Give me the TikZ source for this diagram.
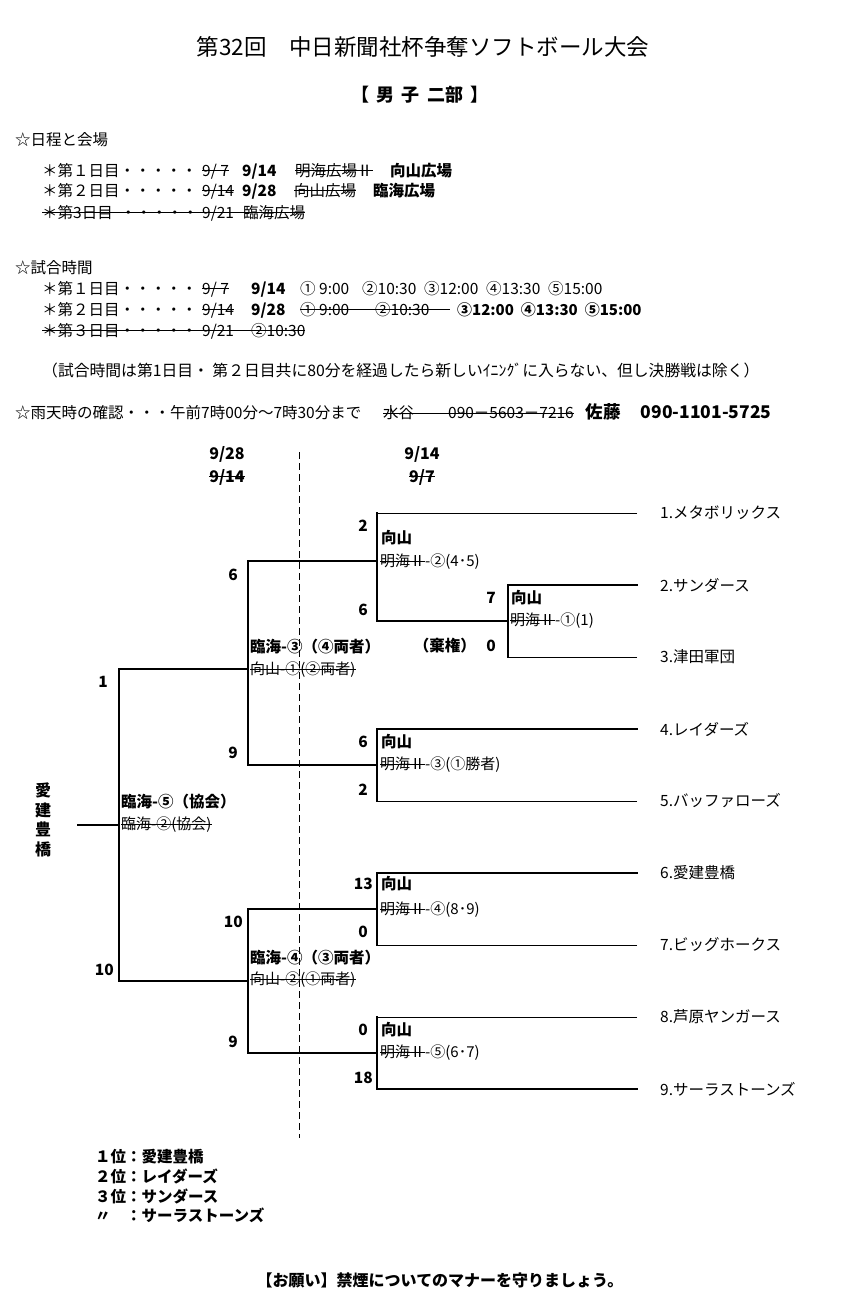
\documentclass[tikz,border=0pt]{standalone}
\usepackage{fontspec}
\setmainfont{Noto Sans CJK JP}
\usetikzlibrary{positioning}

\newcommand\fs[1]{\fontsize{#1}{#1}\selectfont}
\newsavebox\strkbox
\newcommand\strk[1]{\sbox\strkbox{#1}\rlap{\rule[0.33em]{\wd\strkbox}{0.8pt}}\usebox\strkbox}
\newcommand\cell[2]{\makebox[#1pt][l]{#2}}

\tikzset{
    txt/.style={anchor=west,inner sep=0pt,font=\fs{15.5}},
    team/.style={anchor=west,inner sep=0pt,font=\fs{15.5}},
    score/.style={anchor=east,inner sep=0pt,font=\fs{15.5}\bfseries},
    venue/.style={anchor=west,inner sep=0pt,font=\fs{15.5}\bfseries},
    plan/.style={anchor=west,inner sep=0pt,font=\fs{15}},
    datehd/.style={inner sep=0pt,font=\fs{16}\bfseries},
    rank/.style={anchor=west,inner sep=0pt,font=\fs{15.5}\bfseries},
    win/.style={line width=2pt,line cap=rect},
    mid/.style={line width=1.4pt,line cap=rect},
    lose/.style={line width=0.9pt}
}

\begin{document}
\begin{tikzpicture}[x=1pt,y=-1pt]
\useasboundingbox (0,0) rectangle (846,1306);
\fill[white] (0,0) rectangle (846,1306);

% heading
\node[inner sep=0pt,font=\fs{22.5}] (title) at (423,47) {第32回　中日新聞社杯争奪ソフトボール大会};
\node[inner sep=0pt,font=\fs{18}\bfseries] (sub) at (420,95) {【\hspace{.4em}男\hspace{.4em}子\hspace{.4em}二部\hspace{.4em}】};

% schedule
\node[txt] (sched) at (15,140) {☆日程と会場};
\node[txt] (day1) at (42,171) {\cell{160}{＊第１日目・・・・・}\cell{40}{\strk{9/ 7}}\cell{53}{\textbf{9/14}}\cell{95}{\strk{明海広場Ⅱ}}\textbf{向山広場}};
\node[txt] (day2) at (42,191) {\cell{160}{＊第２日目・・・・・}\cell{40}{\strk{9/14}}\cell{52}{\textbf{9/28}}\cell{79}{\strk{向山広場}}\textbf{臨海広場}};
\node[txt] (day3) at (42,213) {\strk{\cell{160}{＊第3日目\hspace{.5em}・・・・・}\cell{41}{9/21}臨海広場}};

% match times
\node[txt] (times) at (15,268) {☆試合時間};
\node[txt] (tm1) at (42,289) {\cell{160}{＊第１日目・・・・・}\cell{49}{\strk{9/ 7}}\cell{49}{\textbf{9/14}}\cell{62}{① 9:00}\cell{62}{②10:30}\cell{62}{③12:00}\cell{62}{④13:30}⑤15:00};
\node[txt] (tm2) at (42,310) {\cell{160}{＊第２日目・・・・・}\cell{49}{\strk{9/14}}\cell{49}{\textbf{9/28}}\strk{\cell{75}{① 9:00}\cell{75}{②10:30}}\hspace{7pt}{\fs{15}\bfseries ③12:00\hspace{7pt}④13:30\hspace{7pt}⑤15:00}};
\node[txt] (tm3) at (42,331) {\strk{\cell{160}{＊第３日目・・・・・}\cell{49}{9/21}②10:30}};
\node[txt,font=\fs{15.8}] (note) at (42,370) {（試合時間は第1日目・ 第２日目共に80分を経過したら新しいｲﾆﾝｸﾞに入らない、但し決勝戦は除く）};
\node[txt] (rain) at (15,412) {\cell{368}{☆雨天時の確認・・・午前7時00分～7時30分まで}\strk{\cell{65}{水谷}090－5603－7216}\hspace{12pt}{\fs{17.5}\bfseries\cell{55}{佐藤}090-1101-5725}};

% date headers of the bracket
\node[datehd] (d1) at (227,454) {9/28};
\node[datehd] (d2) at (227,477) {\strk{9/14}};
\node[datehd] (d3) at (422,454) {9/14};
\node[datehd] (d4) at (422,477) {\strk{9/7}};
\coordinate (dtop) at (299,452);
\coordinate (dbot) at (299,1138);
\draw[line width=0.8pt,dash pattern=on 7pt off 4pt] (dtop) -- (dbot);

% teams
\foreach \i/\y/\name in {1/513/メタボリックス,2/585/サンダース,3/657/津田軍団,4/729/レイダーズ,5/801/バッファローズ,6/873/愛建豊橋,7/945/ビッグホークス,8/1017/芦原ヤンガース,9/1089/サーラストーンズ}{
    \node[team] (t\i) at (660,\y) {\i.\name};
    \coordinate (e\i) at (637,\y);
}

% junctions
\coordinate (q1) at (508,621);
\coordinate (q2) at (377,561);
\coordinate (q3) at (377,765);
\coordinate (q4) at (377,909);
\coordinate (q5) at (377,1053);
\coordinate (s1) at (248,669);
\coordinate (s2) at (248,981);
\coordinate (fin) at (119,825);
\coordinate (out) at (78,825);

% team lines
\draw[lose] (e1) -- (e1 -| q2);
\draw[win] (e2) -- (e2 -| q1);
\draw[lose] (e3) -- (e3 -| q1);
\draw[win] (e4) -- (e4 -| q3);
\draw[lose] (e5) -- (e5 -| q3);
\draw[win] (e6) -- (e6 -| q4);
\draw[lose] (e7) -- (e7 -| q4);
\draw[lose] (e8) -- (e8 -| q5);
\draw[win] (e9) -- (e9 -| q5);

% verticals
\draw[mid] (e2 -| q1) -- (e3 -| q1);
\draw[mid] (e1 -| q2) -- (q1 -| q2);
\draw[mid] (e4 -| q3) -- (e5 -| q3);
\draw[mid] (e6 -| q4) -- (e7 -| q4);
\draw[mid] (e8 -| q5) -- (e9 -| q5);
\draw[win] (q2 -| s1) -- (q3 -| s1);
\draw[win] (q4 -| s2) -- (q5 -| s2);
\draw[win] (s1 -| fin) -- (s2 -| fin);

% winners going on
\draw[win] (q1) -- (q1 -| q2);
\draw[win] (q2) -- (q2 -| s1);
\draw[win] (q3) -- (q3 -| s1);
\draw[win] (q4) -- (q4 -| s2);
\draw[win] (q5) -- (q5 -| s2);
\draw[win] (s1) -- (s1 -| fin);
\draw[win] (s2) -- (s2 -| fin);
\draw[win] (fin) -- (out);

% first round
\node[score] (r1a) at (496,598) {7};
\node[venue] (r1v) at (511,598) {向山};
\node[plan] (r1p) at (510,621) {\strk{明海Ⅱ}-①(1)};
\node[score] (r1b) at (496,646) {0};
\node[venue,anchor=east] (r1f) at (476,646) {（棄権）};

% second round
\node[score] (ra1) at (368,526) {2};
\node[venue] (rav) at (381,538) {向山};
\node[plan] (rap) at (380,562) {\strk{明海Ⅱ}-②(4･5)};
\node[score] (ra2) at (368,610) {6};

\node[score] (rb1) at (368,742) {6};
\node[venue] (rbv) at (381,742) {向山};
\node[plan] (rbp) at (380,765) {\strk{明海Ⅱ}-③(①勝者)};
\node[score] (rb2) at (368,790) {2};

\node[score] (rc1) at (373,884) {13};
\node[venue] (rcv) at (381,884) {向山};
\node[plan] (rcp) at (380,910) {\strk{明海Ⅱ}-④(8･9)};
\node[score] (rc2) at (368,932) {0};

\node[score] (rd1) at (368,1030) {0};
\node[venue] (rdv) at (381,1030) {向山};
\node[plan] (rdp) at (380,1053) {\strk{明海Ⅱ}-⑤(6･7)};
\node[score] (rd2) at (373,1078) {18};

% semi-finals
\node[score] (sa1) at (238,575) {6};
\node[venue] (sav) at (250,647) {臨海-③（④両者）};
\node[plan] (sap) at (250,670) {\strk{向山-①(②両者)}};
\node[score] (sa2) at (238,753) {9};

\node[score] (sb1) at (243,922) {10};
\node[venue] (sbv) at (250,958) {臨海-④（③両者）};
\node[plan] (sbp) at (250,980) {\strk{向山-②(①両者)}};
\node[score] (sb2) at (238,1042) {9};

% final
\node[score] (fa) at (108,682) {1};
\node[venue] (fv) at (121,802) {臨海-⑤（協会）};
\node[plan] (fp) at (121,825) {\strk{臨海-②(協会)}};
\node[score] (fb) at (114,970) {10};
\node[inner sep=0pt,align=center,font=\fontsize{16}{19.5}\selectfont\bfseries] (champ) at (43,820) {愛\\建\\豊\\橋};

% ranking
\node[rank] (r1) at (95,1157) {１位：愛建豊橋};
\node[rank,below=4pt of r1.south west,anchor=north west] (r2) {２位：レイダーズ};
\node[rank,below=4pt of r2.south west,anchor=north west] (r3) {３位：サンダース};
\node[rank,below=4pt of r3.south west,anchor=north west] (r4) {〃\hspace{1em}：サーラストーンズ};

\node[inner sep=0pt,font=\fs{16}\bfseries] (plea) at (440,1280) {【お願い】禁煙についてのマナーを守りましょう。};
\end{tikzpicture}
\end{document}
